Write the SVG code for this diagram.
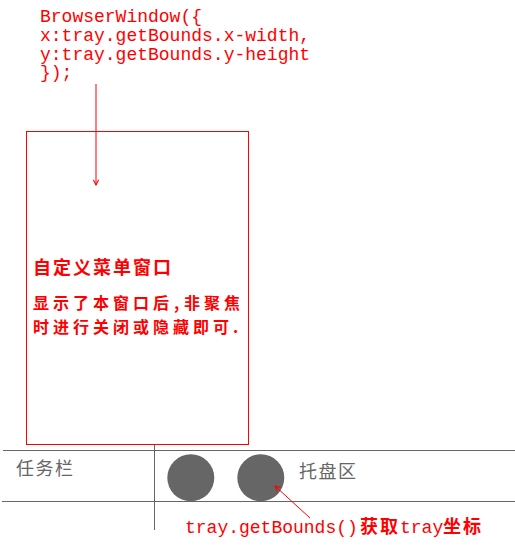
<svg xmlns="http://www.w3.org/2000/svg" width="515" height="546" viewBox="0 0 515 546">
  <style>
    .code { font-family: "Liberation Mono", "Noto Sans CJK SC", monospace; font-size: 18px; fill: #ff0000; }
    .cjk { font-family: "Noto Sans CJK SC", sans-serif; font-size: 18px; letter-spacing: 2px; }
    .small { font-size: 16px; letter-spacing: 4px; }
    .red { fill: #ff0000; }
    .bold { font-weight: bold; }
    .gray { fill: #666666; }
    .line { stroke: #666666; stroke-width: 1; fill: none; }
    .conn { stroke: #ff0000; stroke-width: 1; fill: none; }
  </style>
  <defs>
    <marker id="arrow" viewBox="0 0 8 8" refX="7" refY="4" markerWidth="7" markerHeight="7" markerUnits="userSpaceOnUse" orient="auto">
      <path d="M1,1 L7,4 L1,7" stroke="#ff0000" stroke-width="1.2" fill="none"/>
    </marker>
  </defs>
  <rect width="515" height="546" fill="#ffffff"/>

  <g id="code-label">
    <text class="code" x="40" y="22">BrowserWindow({</text>
    <text class="code" x="40" y="41">x:tray.getBounds.x-width,</text>
    <text class="code" x="40" y="59.5">y:tray.getBounds.y-height</text>
    <text class="code" x="40" y="78">});</text>
  </g>

  <g id="menu-window">
    <rect x="26.5" y="131.5" width="222" height="313" fill="none" stroke="#ff0000" stroke-width="1"/>
    <text class="cjk red bold" x="33" y="274">自定义菜单窗口</text>
    <text class="cjk small red bold" y="309"><tspan x="33">显示了本窗口后</tspan><tspan x="174">,</tspan><tspan x="184">非聚焦</tspan></text>
    <text class="cjk small red bold" x="33" y="333">时进行关闭或隐藏即可.</text>
  </g>

  <g id="taskbar">
    <line class="line" x1="3" y1="450.5" x2="515" y2="450.5"/>
    <line class="line" x1="2" y1="501.5" x2="515" y2="501.5"/>
    <line class="line" x1="154.5" y1="445" x2="154.5" y2="530"/>
    <text class="cjk gray" x="16" y="474.5" style="letter-spacing:1.5px">任务栏</text>
  </g>

  <g id="tray-icon-1">
    <circle cx="190.8" cy="477.8" r="23.5" fill="#666666"/>
  </g>
  <g id="tray-icon-2">
    <circle cx="260.8" cy="477.8" r="23.5" fill="#666666"/>
  </g>

  <g id="tray-label">
    <text class="cjk gray" x="299" y="477.5" style="letter-spacing:1.5px">托盘区</text>
  </g>

  <g id="bounds-label">
    <text class="code" y="533"><tspan x="185">tray.getBounds()</tspan><tspan x="360" class="cjk bold">获取</tspan><tspan x="400">tray</tspan><tspan x="443" class="cjk bold">坐标</tspan></text>
  </g>

  <g id="connectors">
    <line class="conn" x1="96" y1="84" x2="96" y2="185" marker-end="url(#arrow)"/>
    <line class="conn" x1="310" y1="518" x2="275" y2="486" marker-end="url(#arrow)"/>
  </g>
</svg>
